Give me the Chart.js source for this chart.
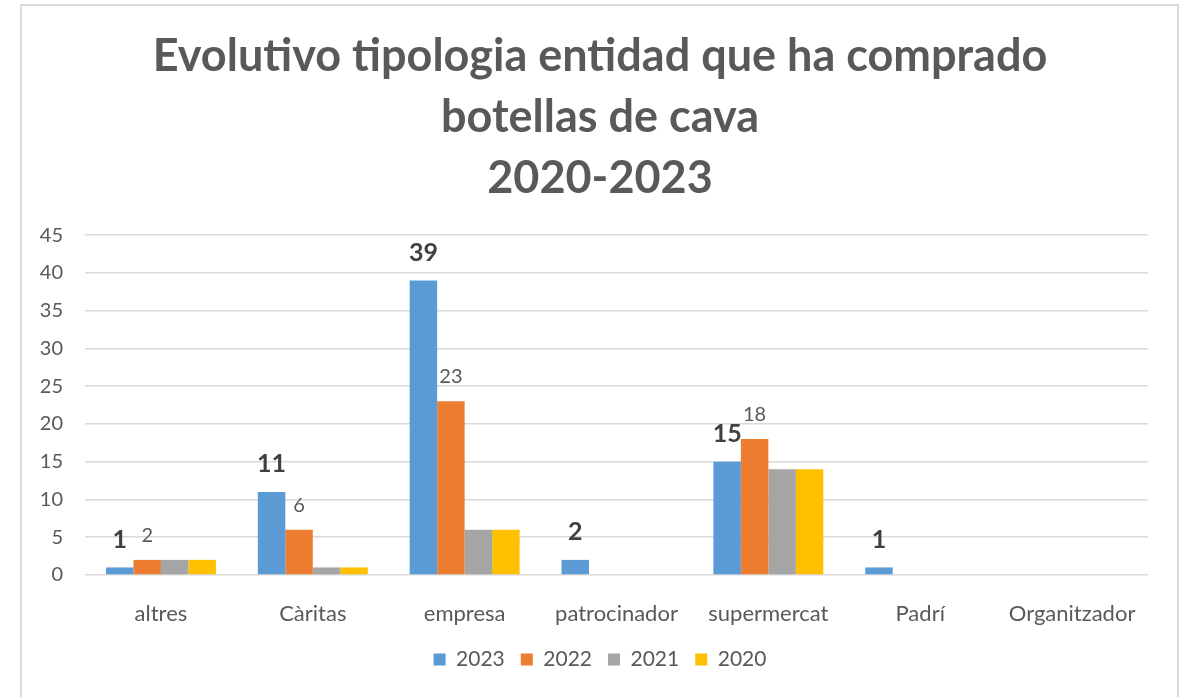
<!DOCTYPE html>
<html><head><meta charset="utf-8">
<script src="https://cdn.jsdelivr.net/npm/chart.js@4/dist/chart.umd.min.js"></script>
<style>
html,body{margin:0;padding:0;background:#fff;overflow:hidden;width:1186px;height:697px}
#frame{position:absolute;left:20px;top:4px;width:1159px;height:720px;border:2px solid #d9d9d9;box-sizing:border-box}
#wrap{position:absolute;left:0;top:0;width:1186px;height:697px}
</style></head><body>
<div id="frame"></div>
<div id="wrap"><canvas id="c" width="1186" height="697"></canvas></div>
<script>
const titleLines = ['Evolutivo tipologia entidad que ha comprado', 'botellas de cava', '2020-2023'];
const categories = ['altres', 'Càritas', 'empresa', 'patrocinador', 'supermercat', 'Padrí', 'Organitzador'];
const seriesNames = ['2023', '2022', '2021', '2020'];
const values2023 = [1, 11, 39, 2, 15, 1, 0];
const values2022 = [2, 6, 23, 0, 18, 0, 0];
const values2021 = [2, 1, 6, 0, 14, 0, 0];
const values2020 = [2, 1, 6, 0, 14, 0, 0];
const yTicks = [0, 5, 10, 15, 20, 25, 30, 35, 40, 45];

const colors = ['#5b9bd5', '#ed7d31', '#a5a5a5', '#ffc000'];
const FONT = 'Lato, "Open Sans", sans-serif';

const labelPlugin = {
  id: 'valueLabels',
  afterDatasetsDraw(chart) {
    const ctx = chart.ctx;
    const styles = [
      {idx: 0, font: 'bold 25px ' + FONT, color: '#404040', gap: 19.5},
      {idx: 1, font: '20px ' + FONT, color: '#595959', gap: 18}
    ];
    ctx.save();
    ctx.textAlign = 'center';
    ctx.textBaseline = 'alphabetic';
    styles.forEach(s => {
      const meta = chart.getDatasetMeta(s.idx);
      const data = chart.data.datasets[s.idx].data;
      meta.data.forEach((el, i) => {
        if (!data[i]) return;
        ctx.font = s.font;
        ctx.fillStyle = s.color;
        ctx.fillText(String(data[i]), el.x, el.y - s.gap);
      });
    });
    ctx.restore();
  }
};

new Chart(document.getElementById('c'), {
  type: 'bar',
  data: {
    labels: categories,
    datasets: [values2023, values2022, values2021, values2020].map((d, i) => ({
      label: seriesNames[i],
      data: d,
      backgroundColor: colors[i],
      borderWidth: 0,
      categoryPercentage: 0.724,
      barPercentage: 1
    }))
  },
  options: {
    responsive: false,
    animation: false,
    devicePixelRatio: 1,
    layout: {padding: {left: 52, right: 38, top: 0, bottom: 17}},
    plugins: {
      title: {
        display: true,
        text: titleLines,
        color: '#595959',
        font: {family: FONT, size: 45, weight: 'bold', lineHeight: 1.356},
        padding: {top: 25.5, bottom: 26.5}
      },
      legend: {
        position: 'bottom',
        labels: {
          color: '#595959',
          font: {family: FONT, size: 21},
          boxWidth: 12,
          boxHeight: 12,
          padding: 16
        }
      },
      tooltip: {enabled: false}
    },
    scales: {
      x: {
        grid: {display: false},
        border: {display: false},
        ticks: {color: '#595959', font: {family: FONT, size: 22}, padding: 18, maxRotation: 0, autoSkip: false},
        afterFit(scale) { scale.height = 58; }
      },
      y: {
        min: 0,
        max: 45,
        grid: {color: '#d9d9d9', lineWidth: 1.5, drawTicks: false},
        border: {display: false},
        afterBuildTicks(scale) { scale.ticks = yTicks.map(v => ({value: v})); },
        ticks: {color: '#595959', font: {family: FONT, size: 20}, padding: 22},
        afterFit(scale) {
          scale.width = 33;
          scale._computeLabelArea = () => undefined;
        }
      }
    }
  },
  plugins: [labelPlugin]
});
</script>
</body></html>
